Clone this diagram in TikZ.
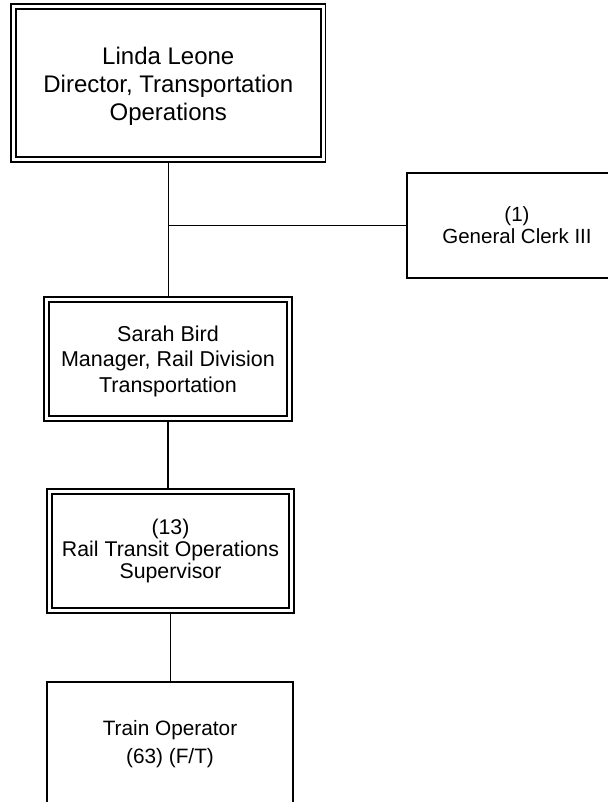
\documentclass[tikz,border=0pt]{standalone}
\usepackage{fontspec}
\setmainfont{Liberation Sans}
\begin{document}
\begin{tikzpicture}[x=1pt,y=-1pt,
  box/.style={draw=black, line width=1.5pt, inner sep=0pt, align=center, text=black},
  dbox/.style={box, double, double distance=3.2pt},
  conn/.style={draw=black, line width=1.5pt},
  fromd/.style={shorten <=2.35pt},
  tod/.style={shorten >=2.35pt}]
\useasboundingbox (0,0) rectangle (607,802);
\node[dbox, minimum width=309.7pt, minimum height=153pt, font=\fontsize{24}{28}\selectfont] (dir) at (168.3,83) {\rule{0pt}{23.5pt}Linda Leone\\Director, Transportation\\Operations};
\node[box, minimum width=220pt, minimum height=105pt, font=\fontsize{20.5}{22}\selectfont] (clerk) at (517,225.5) {(1)\\General Clerk III};
\node[dbox, minimum width=243pt, minimum height=119pt, font=\fontsize{21.5}{25.5}\selectfont] (mgr) at (168,359) {\rule{0pt}{19.7pt}Sarah Bird\\Manager, Rail Division\\Transportation};
\node[dbox, minimum width=242pt, minimum height=119pt, font=\fontsize{21.3}{21.8}\selectfont] (sup) at (170.5,551) {(13)\\Rail Transit Operations\\Supervisor};
\node[box, minimum width=246pt, minimum height=124pt, font=\fontsize{20.8}{28}\selectfont] (op) at (170,744) {Train Operator\\(63) (F/T)};
\coordinate (j) at (dir.south |- clerk.west);
\draw[conn, fromd, tod] (dir.south) -- (dir.south |- mgr.north);
\draw[conn] (j) -- (clerk.west);
\draw[conn, fromd, tod] (mgr.south) -- (mgr.south |- sup.north);
\draw[conn, fromd] (sup.south) -- (sup.south |- op.north);
\end{tikzpicture}
\end{document}
